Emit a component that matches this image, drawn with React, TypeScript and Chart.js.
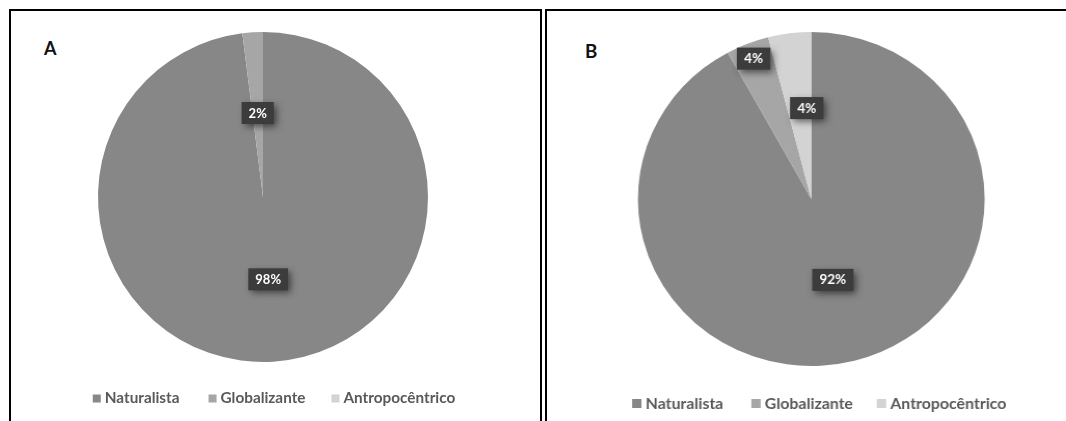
import React, { useEffect, useRef } from "react";
import { Chart, registerables } from "chart.js";

Chart.register(...registerables);

// ---------- data ----------
const categories = ["Naturalista", "Globalizante", "Antropocêntrico"];
const valuesA = [98, 2, 0];
const valuesB = [92, 4, 4];
const sliceColors = ["#878787", "#a6a6a6", "#d3d3d3"];

// ---------- plugins ----------
const sliceLabelPlugin = {
  id: "sliceLabels",
  afterDatasetsDraw(chart: any, _args: any, opts: any) {
    const ctx = chart.ctx;
    const meta = chart.getDatasetMeta(0);
    const values = chart.data.datasets[0].data as number[];
    ctx.save();
    ctx.font = opts.font;
    meta.data.forEach((arc: any, i: number) => {
      const v = values[i];
      if (!v) return;
      const p = arc.getProps(["x", "y", "startAngle", "endAngle", "outerRadius"], true);
      const a = p.startAngle + (p.endAngle - p.startAngle) * opts.along[i];
      const r = p.outerRadius * opts.radial[i];
      const cx = p.x + Math.cos(a) * r;
      const cy = p.y + Math.sin(a) * r;
      const text = `${v}%`;
      const tw = ctx.measureText(text).width;
      const w = tw + opts.padX * 2;
      const h = opts.boxH;
      ctx.save();
      ctx.shadowColor = "rgba(0,0,0,0.55)";
      ctx.shadowBlur = 7;
      ctx.shadowOffsetX = 3;
      ctx.shadowOffsetY = 3;
      ctx.fillStyle = "#3c3c3c";
      ctx.fillRect(cx - w / 2, cy - h / 2, w, h);
      ctx.restore();
      ctx.fillStyle = "#ffffff";
      ctx.textAlign = "center";
      ctx.textBaseline = "alphabetic";
      ctx.fillText(text, cx, cy + opts.capH / 2);
    });
    ctx.restore();
  },
};

const boxLegendPlugin = {
  id: "boxLegend",
  afterDraw(chart: any, _args: any, opts: any) {
    const ctx = chart.ctx;
    const labels = chart.data.labels as string[];
    const colors = chart.data.datasets[0].backgroundColor as string[];
    ctx.save();
    ctx.font = opts.font;
    const widths = labels.map((l) => ctx.measureText(l).width);
    const total =
      widths.reduce((s, w) => s + opts.box + opts.gapText + w, 0) +
      opts.gaps.reduce((s: number, g: number) => s + g, 0);
    let x = opts.cx - total / 2;
    labels.forEach((l, i) => {
      ctx.fillStyle = colors[i];
      ctx.fillRect(x, opts.boxY - opts.box / 2, opts.box, opts.box);
      x += opts.box + opts.gapText;
      ctx.fillStyle = opts.color;
      ctx.textAlign = "left";
      ctx.textBaseline = "alphabetic";
      ctx.fillText(l, x, opts.baseY);
      x += widths[i] + (opts.gaps[i] || 0);
    });
    ctx.restore();
  },
};

type PieProps = {
  values: number[];
  width: number;
  height: number;
  displayWidth: number;
  left: number;
  top: number;
  padding: { left: number; right: number; top: number; bottom: number };
  labelOpts: any;
  legendOpts: any;
};

function PieChart(props: PieProps) {
  const ref = useRef<HTMLCanvasElement | null>(null);
  useEffect(() => {
    if (!ref.current) return;
    const chart = new Chart(ref.current, {
      type: "pie",
      data: {
        labels: categories,
        datasets: [
          {
            data: props.values,
            backgroundColor: sliceColors,
            borderWidth: 0,
            hoverOffset: 0,
            offset: 0,
          },
        ],
      },
      options: {
        responsive: false,
        animation: false,
        devicePixelRatio: 1,
        layout: { padding: props.padding },
        plugins: {
          legend: { display: false },
          tooltip: { enabled: false },
          sliceLabels: props.labelOpts,
          boxLegend: props.legendOpts,
        } as any,
      },
      plugins: [sliceLabelPlugin, boxLegendPlugin],
    });
    // keep the displayed size (the reference panel B is stretched horizontally)
    ref.current.style.width = props.displayWidth + "px";
    ref.current.style.height = props.height + "px";
    return () => chart.destroy();
  }, []);
  return (
    <canvas
      ref={ref}
      width={props.width}
      height={props.height}
      style={{
        position: "absolute",
        left: props.left,
        top: props.top,
        width: props.displayWidth,
        height: props.height,
      }}
    />
  );
}

const letterStyle: React.CSSProperties = {
  position: "absolute",
  fontFamily: "Lato",
  fontWeight: 700,
  fontSize: 18,
  lineHeight: "18px",
  color: "#111",
};

export default function App() {
  return (
    <div
      style={{
        position: "fixed",
        left: 0,
        top: 0,
        width: 1066,
        height: 421,
        background: "#fff",
        overflow: "hidden",
      }}
    >
      <div
        style={{
          position: "absolute",
          left: 9,
          top: 9,
          width: 529,
          height: 440,
          borderLeft: "2px solid #000",
          borderTop: "2px solid #000",
          borderRight: "2px solid #000",
        }}
      />
      <div
        style={{
          position: "absolute",
          left: 545,
          top: 9,
          width: 560,
          height: 440,
          borderLeft: "2px solid #000",
          borderTop: "2px solid #000",
        }}
      />
      <div style={{ ...letterStyle, left: 44, top: 39 }}>A</div>
      <div style={{ ...letterStyle, left: 585, top: 42, transform: "scaleX(1.04)", transformOrigin: "left top" }}>B</div>
      <PieChart
        values={valuesA}
        width={528}
        displayWidth={528}
        height={410}
        left={12}
        top={11}
        padding={{ left: 86, right: 112, top: 21, bottom: 59 }}
        labelOpts={{
          radial: [0.5, 0.51, 0.5],
          along: [0.5, 0.5, 0.5],
          font: "bold 13px Lato",
          padX: 7,
          boxH: 22,
          capH: 9,
        }}
        legendOpts={{
          cx: 262,
          boxY: 387.5,
          baseY: 392,
          box: 8,
          gapText: 4,
          gaps: [29, 26],
          font: "bold 15.3px Lato",
          color: "#595959",
        }}
      />
      <PieChart
        values={valuesB}
        width={499}
        displayWidth={518}
        height={410}
        left={548}
        top={11}
        padding={{ left: 86.6, right: 78.4, top: 21, bottom: 55 }}
        labelOpts={{
          radial: [0.5, 0.904, 0.545],
          along: [0.5, 0.5, 0.81],
          font: "bold 13px Lato",
          padX: 7,
          boxH: 22,
          capH: 9,
        }}
        legendOpts={{
          cx: 261.3,
          boxY: 392.5,
          baseY: 397.5,
          box: 9,
          gapText: 4,
          gaps: [27, 23],
          font: "bold 15.3px Lato",
          color: "#595959",
        }}
      />
    </div>
  );
}
